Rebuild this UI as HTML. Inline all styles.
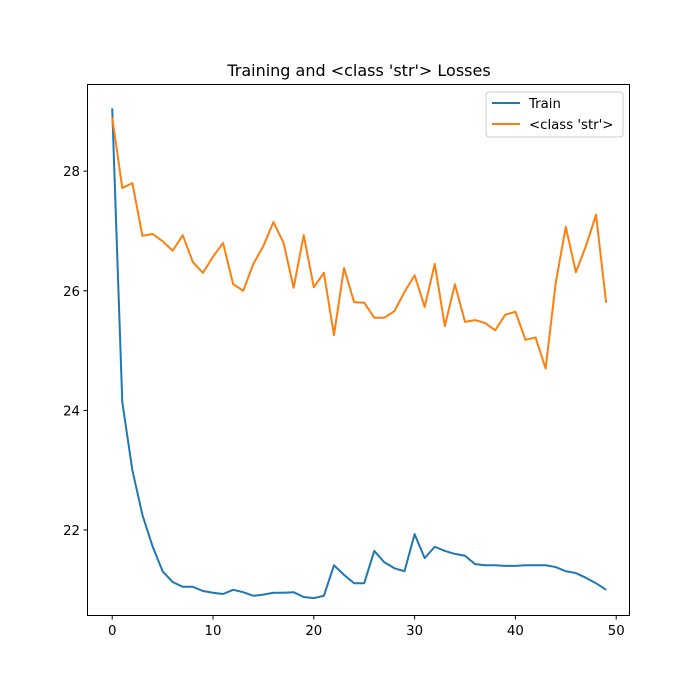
<!DOCTYPE html>
<html><head><meta charset="utf-8"><style>
body{margin:0;background:#fff}
svg{display:block;font-family:"DejaVu Sans","Liberation Sans",sans-serif}
</style></head><body>
<svg id="chart" width="700" height="700">
<rect x="0" y="0" width="700" height="700" fill="#fff"/>
<text x="359" y="76" font-size="16" text-anchor="middle">Training and &lt;class 'str'&gt; Losses</text>
<g id="ticks"></g>
<g id="lines"></g>
<rect x="87.5" y="84.5" width="542" height="531" fill="none" stroke="#000" stroke-width="1"/>
<g>
<rect x="486" y="92" width="137" height="45" fill="#fff" stroke="#ccc" rx="3"/>
<line x1="492" y1="103" x2="520" y2="103" stroke="#1f77b4" stroke-width="2"/>
<text x="529" y="108" font-size="13.3">Train</text>
<line x1="492" y1="124" x2="520" y2="124" stroke="#ff7f0e" stroke-width="2"/>
<text x="529" y="129" font-size="13.3">&lt;class 'str'&gt;</text>
</g>
</svg>
<script>
const xTicks=[0,10,20,30,40,50];
const yTicks=[22,24,26,28];
const trainLoss=[29.05,24.14,23.0,22.25,21.73,21.31,21.13,21.05,21.05,20.98,20.95,20.93,21.0,20.96,20.9,20.92,20.95,20.95,20.96,20.88,20.86,20.9,21.41,21.25,21.11,21.11,21.65,21.46,21.36,21.31,21.93,21.53,21.72,21.65,21.6,21.57,21.43,21.41,21.41,21.4,21.4,21.41,21.41,21.41,21.38,21.31,21.28,21.2,21.11,21.0];
const strLoss=[28.9,27.72,27.8,26.92,26.95,26.83,26.67,26.93,26.48,26.3,26.57,26.8,26.11,26.0,26.45,26.75,27.15,26.8,26.05,26.93,26.06,26.3,25.26,26.38,25.81,25.8,25.55,25.55,25.66,25.98,26.26,25.73,26.45,25.41,26.11,25.48,25.51,25.46,25.34,25.6,25.65,25.18,25.22,24.7,26.13,27.07,26.31,26.75,27.27,25.8];
const NS="http://www.w3.org/2000/svg";
function xs(v){return 112.2+v*10.08;}
function ys(v){return 530-(v-22)*59.8;}
const tg=document.getElementById('ticks');
function mk(t,a,p){const e=document.createElementNS(NS,t);for(const k in a)e.setAttribute(k,a[k]);p.appendChild(e);return e;}
xTicks.forEach(t=>{
 const x=xs(t);
 const l=mk('line',{x1:x,x2:x,y1:615.5,y2:619.5,stroke:'#000'},tg);
 
 
 const tx=mk('text',{x:x,y:635,'font-size':13.3,'text-anchor':'middle'},tg);tx.textContent=t;
 
 
});
yTicks.forEach(t=>{
 const y=ys(t);
 const l=mk('line',{x1:83.5,x2:87.5,y1:y,y2:y,stroke:'#000'},tg);
 
 
 const tx=mk('text',{x:80,y:y+5,'font-size':13.3,'text-anchor':'end'},tg);tx.textContent=t;
 
 
});
const lg=document.getElementById('lines');
function line(arr,color,name){
 const p=mk('polyline',{points:arr.map((v,i)=>xs(i)+','+ys(v)).join(' '),fill:'none',stroke:color,'stroke-width':2,'stroke-linejoin':'round'},lg);
 
 
}
line(trainLoss,'#1f77b4','train-line');
line(strLoss,'#ff7f0e','str-loss-line');
</script>
</body></html>
